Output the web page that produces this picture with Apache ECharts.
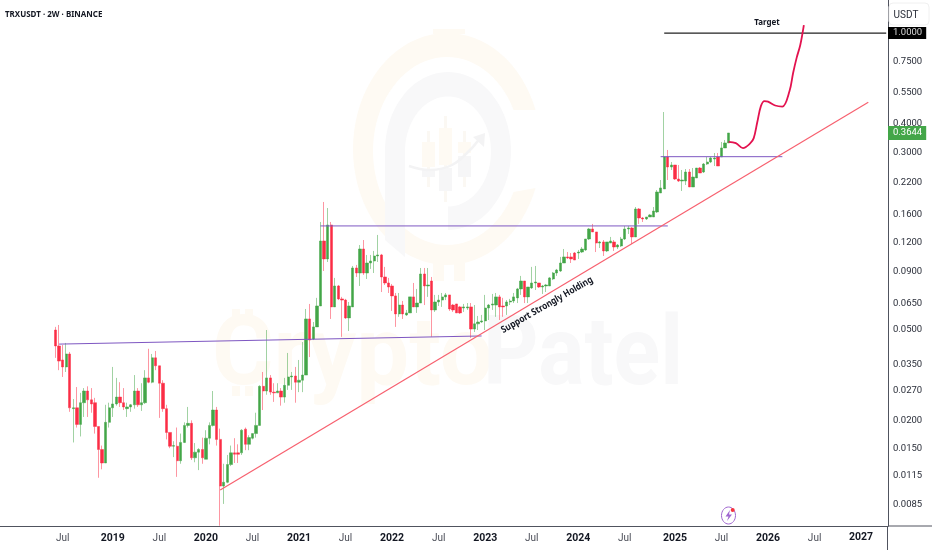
<!DOCTYPE html>
<html><head><meta charset="utf-8">
<style>html,body{margin:0;padding:0;background:#fff}#c{width:932px;height:550px}</style>
<script src="https://cdn.jsdelivr.net/npm/echarts@6/dist/echarts.min.js"></script>
</head><body><div id="c"></div>
<script>
const firstCategory = '2017-10-24', categoryCount = 248, firstBarIndex = 15;
const opens = [.0498,.0424,.0368,.0343,.0391,.0225,.0227,.0192,.0239,.0269,.0246,.0239,.0188,.0149,.0130,.0196,.0227,.0236,.0253,.0239,.0225,.0229,.0234,.0269,.0234,.0239,.0307,.0294,.0376,.0347,.0291,.0225,.0177,.0154,.0154,.0133,.0160,.0190,.0194,.0137,.0145,.0149,.0135,.0167,.0190,.0222,.0165,.0103,.0107,.0128,.0144,.0144,.0144,.0183,.0157,.0167,.0175,.0190,.0282,.0269,.0307,.0266,.0264,.0269,.0253,.0285,.0310,.0313,.0294,.0300,.0316,.0557,.0455,.0514,.0635,.1224,.1021,.1439,.0629,.0777,.0682,.0674,.0563,.0629,.0932,.0886,.1129,.0886,.0980,.1000,.1052,.1063,.0851,.0801,.0777,.0703,.0586,.0641,.0580,.0592,.0696,.0629,.0654,.0877,.0777,.0817,.0610,.0661,.0674,.0696,.0710,.0641,.0648,.0629,.0622,.0622,.0629,.0503,.0530,.0540,.0546,.0622,.0641,.0641,.0696,.0635,.0635,.0661,.0668,.0689,.0754,.0817,.0696,.0762,.0801,.0801,.0769,.0777,.0777,.0834,.0886,.0904,.0980,.1042,.1042,.1084,.1084,.1095,.1118,.1249,.1382,.1341,.1199,.1212,.1107,.1199,.1212,.1152,.1164,.1249,.1382,.1396,.1275,.1691,.1544,.1529,.1560,.1560,.1641,.1988,.2070,.2860,.2584,.2637,.2289,.2243,.2243,.2457,.2112,.2313,.2558,.2457,.2663,.2718,.2802,.2860,.2860,.3132,.3294];
const closes = [.0424,.0364,.0343,.0391,.0227,.0227,.0192,.0239,.0269,.0246,.0236,.0188,.0149,.0130,.0196,.0227,.0236,.0253,.0239,.0229,.0229,.0234,.0269,.0234,.0239,.0307,.0294,.0376,.0347,.0291,.0225,.0177,.0154,.0155,.0133,.0160,.0190,.0194,.0137,.0145,.0149,.0137,.0167,.0190,.0222,.0165,.0103,.0107,.0128,.0144,.0142,.0142,.0181,.0157,.0168,.0175,.0190,.0282,.0269,.0307,.0266,.0264,.0269,.0253,.0285,.0310,.0313,.0294,.0300,.0316,.0557,.0450,.0514,.0635,.1224,.1021,.1439,.0629,.0777,.0682,.0674,.0563,.0635,.0932,.0886,.1129,.0886,.0980,.1000,.1052,.1063,.0851,.0801,.0769,.0703,.0586,.0641,.0586,.0592,.0696,.0629,.0654,.0877,.0777,.0785,.0610,.0661,.0674,.0696,.0710,.0616,.0610,.0592,.0592,.0629,.0629,.0503,.0530,.0540,.0546,.0622,.0641,.0648,.0696,.0629,.0629,.0661,.0668,.0696,.0754,.0817,.0696,.0769,.0801,.0809,.0769,.0777,.0785,.0843,.0886,.0913,.0980,.1042,.1031,.1021,.1010,.1095,.1129,.1249,.1382,.1341,.1199,.1212,.1107,.1212,.1224,.1152,.1175,.1249,.1382,.1396,.1275,.1691,.1544,.1529,.1560,.1592,.1657,.2008,.2091,.2860,.2584,.2637,.2289,.2243,.2266,.2457,.2112,.2336,.2558,.2432,.2663,.2718,.2831,.2831,.2610,.3132,.3294,.3644];
const lows = [.0376,.0332,.0310,.0326,.0218,.0160,.0186,.0170,.0207,.0207,.0216,.0175,.0112,.0122,.0130,.0186,.0207,.0232,.0229,.0222,.0207,.0218,.0225,.0229,.0220,.0236,.0291,.0291,.0332,.0205,.0218,.0165,.0151,.0138,.0113,.0129,.0159,.0186,.0134,.0131,.0121,.0129,.0135,.0157,.0188,.0155,.0069,.0086,.0106,.0126,.0130,.0130,.0141,.0148,.0148,.0165,.0168,.0190,.0222,.0259,.0259,.0241,.0264,.0232,.0239,.0272,.0272,.0239,.0266,.0266,.0316,.0379,.0450,.0514,.0635,.0904,.0990,.0557,.0629,.0674,.0465,.0557,.0493,.0629,.0851,.0777,.0869,.0834,.0923,.0886,.0990,.0731,.0785,.0724,.0604,.0514,.0569,.0557,.0574,.0592,.0629,.0592,.0654,.0641,.0696,.0465,.0598,.0635,.0629,.0674,.0604,.0598,.0592,.0586,.0598,.0610,.0460,.0488,.0498,.0535,.0498,.0551,.0610,.0569,.0551,.0569,.0580,.0641,.0654,.0654,.0710,.0654,.0654,.0754,.0746,.0762,.0717,.0731,.0777,.0825,.0860,.0895,.0980,.1021,.0980,.1010,.1021,.1084,.1107,.1236,.1341,.1095,.1140,.1052,.1095,.1199,.1107,.1129,.1152,.1236,.1314,.1187,.1275,.1454,.1483,.1513,.1560,.1560,.1624,.1988,.2070,.2266,.2507,.2266,.2221,.2028,.2155,.2112,.2112,.2313,.2432,.2432,.2637,.2690,.2610,.2610,.2860,.3132,.3294];
const highs = [.0514,.0524,.0428,.0437,.0399,.0248,.0280,.0264,.0277,.0282,.0277,.0251,.0188,.0155,.0234,.0239,.0343,.0307,.0294,.0277,.0239,.0236,.0316,.0277,.0291,.0332,.0412,.0391,.0403,.0347,.0300,.0234,.0177,.0162,.0186,.0175,.0196,.0229,.0200,.0159,.0151,.0168,.0181,.0196,.0269,.0229,.0184,.0129,.0141,.0155,.0167,.0157,.0183,.0186,.0172,.0175,.0216,.0285,.0326,.0498,.0316,.0291,.0291,.0277,.0307,.0395,.0326,.0343,.0368,.0441,.0616,.0648,.0540,.0689,.1483,.1815,.1708,.1483,.0843,.0785,.0696,.0682,.0661,.0951,.0961,.1175,.1236,.1063,.1063,.1107,.1301,.1074,.0942,.0843,.0793,.0724,.0724,.0668,.0610,.0696,.0801,.0754,.0932,.0932,.0932,.0851,.0710,.0710,.0724,.0724,.0710,.0648,.0648,.0635,.0648,.0654,.0654,.0641,.0574,.0580,.0710,.0648,.0717,.0724,.0710,.0689,.0674,.0682,.0724,.0762,.0860,.0817,.0769,.0942,.0951,.0801,.0785,.0793,.0851,.0895,.0923,.1042,.1129,.1095,.1084,.1095,.1118,.1152,.1249,.1396,.1454,.1341,.1224,.1236,.1212,.1275,.1236,.1187,.1275,.1425,.1425,.1410,.1725,.1708,.1560,.1560,.1608,.1725,.2048,.2266,.4503,.3069,.2718,.2637,.2637,.2507,.2532,.2532,.2558,.2558,.2584,.2690,.2860,.2860,.2977,.2977,.3327,.3395,.3644];
const priceTicks = [1,.75,.55,.4,.3,.22,.16,.12,.09,.065,.05,.035,.027,.02,.015,.0115,.0085,.3644];
const dateTicks = ['2018-06-19','2019-01-01','2019-07-02','2019-12-31','2020-06-30','2020-12-29','2021-06-29','2021-12-28','2022-06-28','2022-12-27','2023-06-27','2023-12-26','2024-06-25','2025-01-07','2025-07-08','2026-01-06','2026-07-07'];
const dateTickText = ['Jul','2019','Jul','2020','Jul','2021','Jul','2022','Jul','2023','Jul','2024','Jul','2025','Jul','2026','Jul'];
const resistanceA = [['2018-06-05',.0432],['2022-12-13',.0469]];
const resistanceB = [['2021-03-23',.1425],['2024-12-10',.1425]];
const resistanceC = [['2024-11-12',.2868],['2026-03-03',.2868]];
const supportLine = [['2020-02-25',.0099],['2027-02-02',.4966]];
const targetLine = [['2024-11-26',1],['2027-04-13',1]];
const pathDates = ['2025-08-05','2025-09-02','2025-09-30','2025-10-28','2025-11-11','2025-11-25','2025-12-09','2025-12-23','2026-01-06','2026-02-03','2026-03-03','2026-03-31','2026-04-14','2026-04-28','2026-05-12','2026-05-26'];
const pathPrices = [.333,.329,.313,.328,.346,.407,.478,.503,.500,.481,.476,.557,.668,.78,.886,1.084];

const DAY = 864e5, t0 = Date.parse(firstCategory + 'T00:00:00Z');
const categories = [];
for (let i = 0; i < categoryCount; i++) categories.push(new Date(t0 + i * 14 * DAY).toISOString().slice(0, 10));
const bars = opens.map((o, i) => [categories[firstBarIndex + i], o, closes[i], lows[i], highs[i]]);

const UP = '#43a648', DOWN = '#fb2d45', ORANGE = '#fefaf3', GREY = '#f8f8f9', FONT = 'Roboto, Arial, sans-serif';
const overlay = (data, color, width, extra) => Object.assign({type:'line', data, symbol:'none', silent:true, z:5,
  lineStyle:{color, width}, animation:false}, extra || {});
// decorative watermark outlines
const arcPts = (cx, cy, rx, ry, a0, a1) => {
  const out = [];
  for (let k = 0; k <= 72; k++) {
    const a = (a0 + (a1 - a0) * k / 72) * Math.PI / 180;
    out.push([cx + rx * Math.cos(a), cy + ry * Math.sin(a)]);
  }
  return out;
};
const ringC = arcPts(447, 149, 94, 116, -19.6, -340.4).concat(arcPts(447, 151, 74, 94, -334.1, -25.9));
const ringP = [[385, 240]].concat(arcPts(448, 151, 63, 79, 180, 450), arcPts(448, 151.5, 43, 55, 450, 180), [[405, 257]]);
const wm = (x, y, width, height, fill) => ({type:'rect', z:0, silent:true, shape:{x, y, width, height}, style:{fill}});

const chart = echarts.init(document.getElementById('c'), null, {renderer:'canvas'});
chart.setOption({
  animation:false, backgroundColor:'#fff',
  grid:{left:0, top:0, right:44, bottom:24, containLabel:false, outerBoundsMode:'none'},
  xAxis:{type:'category', data:categories, boundaryGap:true,
    axisLine:{show:true, lineStyle:{color:'#50535e', width:1}}, axisTick:{show:false}, splitLine:{show:false},
    axisLabel:{customValues:dateTicks, hideOverlap:false, margin:7,
      formatter:v => { const t = dateTickText[dateTicks.indexOf(v)]; return t === 'Jul' ? '{m|Jul}' : '{y|' + t + '}'; },
      rich:{m:{fontFamily:FONT, fontSize:10, color:'#4a4d57'}, y:{fontFamily:FONT, fontSize:10.5, fontWeight:700, color:'#131722'}}}},
  yAxis:{type:'log', logBase:10, position:'right', min:.00688, max:1.396, scale:true,
    axisLine:{show:true, onZero:false, lineStyle:{color:'#50535e', width:1}}, axisTick:{show:false}, splitLine:{show:false},
    minorTick:{show:false}, minorSplitLine:{show:false},
    axisLabel:{margin:0, customValues:priceTicks, showMinLabel:true, showMaxLabel:true, hideOverlap:false, align:'left',
      formatter:v => {
        const s = Number(v).toFixed(4);
        if (Math.abs(v - 1) < 1e-9) return '{tgt|' + s + '}';
        if (Math.abs(v - .3644) < 1e-9) return '{cur|' + s + '}';
        return '{n|' + s + '}';
      },
      rich:{n:{fontFamily:FONT, fontSize:9.5, color:'#2a2e39', padding:[0,0,0,5]},
        tgt:{fontFamily:FONT, fontSize:9.5, color:'#d8d8d8', backgroundColor:'#000', padding:[1,4,1,5]},
        cur:{fontFamily:FONT, fontSize:9.5, color:'#fff', backgroundColor:UP, padding:[2,4,2,5]}}}},
  series:[
    {type:'candlestick', data:bars, encode:{x:0, y:[1,2,3,4]}, barWidth:2.8, z:3, silent:true,
      itemStyle:{color:UP, color0:DOWN, borderColor:'rgba(67,166,72,.5)', borderColor0:'rgba(251,45,69,.5)', borderWidth:1}},
    overlay(resistanceA, '#7e57c2', 1),
    overlay(resistanceB, '#7e57c2', 1),
    overlay(resistanceC, '#7e57c2', 1),
    overlay(supportLine, '#f7606f', 1.2),
    overlay(targetLine, '#222', 1.2),
    overlay(pathDates.map((d, i) => [d, pathPrices[i]]), '#e3124f', 1.8, {smooth:.35})
  ],
  graphic:[
    {type:'polygon', z:0, silent:true, shape:{points:ringC}, style:{fill:ORANGE}},
    wm(433,29,32,5,ORANGE), wm(433,263,11,18,ORANGE), wm(454,263,11,18,ORANGE),
    {type:'polygon', z:0, silent:true, shape:{points:ringP}, style:{fill:GREY}},
    wm(427,131,3,56,'#fbf8f3'), wm(422,142,13,25,ORANGE), wm(422,170,13,7,'#f6f6f7'),
    wm(444,116,3,86,'#fbf8f3'), wm(439,128,13,37,ORANGE), wm(439,168,13,23,'#f6f6f7'),
    wm(463,131,3,56,'#fbf8f3'), wm(458,142,13,11,ORANGE), wm(458,156,13,21,'#f6f6f7'),
    {type:'polyline', z:0, silent:true, shape:{points:[[409,166],[430,170],[452,165],[470,150],[480,138]], smooth:.4}, style:{fill:'none', stroke:'#f3f3f4', lineWidth:2.5}},
    {type:'polygon', z:0, silent:true, shape:{points:[[473,137],[485,133],[484,147]]}, style:{fill:'#f3f3f4'}},
    {type:'text', z:0, silent:true, x:212, y:408, style:{text:'Crypto', fontFamily:'Roboto', fontWeight:700, fontSize:97, fill:ORANGE, textVerticalAlign:'bottom'}, scaleX:.97},
    wm(232,309,8,12,ORANGE), wm(245,309,8,12,ORANGE), wm(232,386,8,10,ORANGE), wm(245,386,8,10,ORANGE),
    {type:'text', z:0, silent:true, x:483, y:408, style:{text:'Patel', fontFamily:'Roboto', fontWeight:700, fontSize:97, fill:GREY, textVerticalAlign:'bottom'}, scaleX:.89},
    {type:'text', z:10, silent:true, x:5, y:14, scaleX:.84, style:{text:'TRXUSDT · 2W · BINANCE', fontFamily:'"Noto Sans"', fontWeight:700, fontSize:9.5, fill:'#131722', textVerticalAlign:'middle'}},
    {type:'text', z:10, silent:true, x:767, y:22, scaleX:.84, style:{text:'Target', fontFamily:'"Noto Sans"', fontWeight:700, fontSize:9.5, fill:'#131722', textAlign:'center', textVerticalAlign:'middle'}},
    {type:'text', z:10, silent:true, x:547, y:305, rotation:.522, scaleX:.87, style:{text:'Support Strongly Holding', fontFamily:'"Noto Sans"', fontWeight:700, fontSize:9.5, fill:'#131722', textAlign:'center', textVerticalAlign:'middle'}},
    {type:'text', z:10, silent:true, x:861, y:537, style:{text:'2027', fontFamily:FONT, fontWeight:700, fontSize:10.5, fill:'#131722', textAlign:'center', textVerticalAlign:'middle'}},
    {type:'rect', z:10, silent:true, shape:{x:889,y:3,width:40,height:22,r:4}, style:{fill:'#fff', stroke:'#f0f0f0', lineWidth:1}},
    {type:'text', z:11, silent:true, x:906, y:15, style:{text:'USDT', fontFamily:FONT, fontSize:10, fill:'#2a2e39', textAlign:'center', textVerticalAlign:'middle'}},
    {type:'line', z:10, silent:true, shape:{x1:888,y1:526,x2:932,y2:526}, style:{stroke:'#50535e', lineWidth:1}},
    {type:'line', z:10, silent:true, shape:{x1:887.5,y1:526,x2:887.5,y2:550}, style:{stroke:'#50535e', lineWidth:1}},
    {type:'ellipse', z:10, silent:true, shape:{cx:728.5,cy:515.5,rx:7,ry:8.5}, style:{fill:'none', stroke:'#a066d0', lineWidth:1}},
    {type:'polygon', z:10, silent:true, shape:{points:[[730,510],[725.5,516.5],[728.5,516.5],[727,521],[732,514.5],[729,514.5]]}, style:{fill:'#a066d0'}},
    {type:'circle', z:11, silent:true, shape:{cx:732.7,cy:510,r:2}, style:{fill:'#f5333f'}}
  ]
});
</script></body></html>
